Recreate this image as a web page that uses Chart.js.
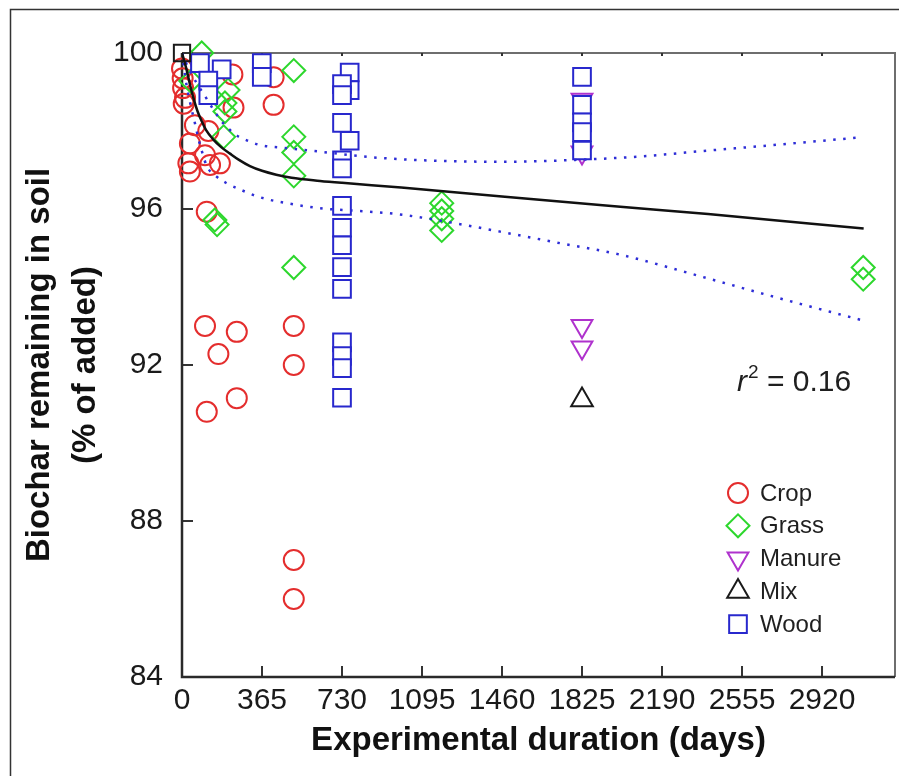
<!DOCTYPE html>
<html>
<head>
<meta charset="utf-8">
<script src="https://cdn.jsdelivr.net/npm/chart.js@4.4.1/dist/chart.umd.min.js"></script>
<style>
html, body { margin: 0; padding: 0; background: #fff; }
canvas { display: block; }
</style>
</head>
<body>
<canvas id="c" width="899" height="776" style="width:899px;height:776px"></canvas>
<script>
// ---- data ----
const xTickValues = [0, 365, 730, 1095, 1460, 1825, 2190, 2555, 2920];
const yTickValues = [84, 88, 92, 96, 100];
const seriesNames = ['Crop', 'Grass', 'Manure', 'Mix', 'Wood'];

const cropDays   = [0, 3, 5, 14, 8, 230, 235, 418, 418, 59, 120, 36, 105, 29, 36, 128, 173, 113, 105, 250, 166, 250, 113, 510, 510, 510, 510];
const cropValues = [99.6, 99.35, 99.1, 98.85, 98.7, 99.45, 98.6, 99.38, 98.67, 98.15, 98.0, 97.68, 97.38, 97.17, 96.96, 97.13, 97.17, 95.93, 93.0, 92.85, 92.28, 91.15, 90.8, 93.0, 92.0, 87.0, 86.0];

const grassDays   = [90, 40, 210, 196, 196, 190, 150, 160, 510, 510, 510, 510, 510, 1185, 1185, 1185, 1185, 3108, 3108];
const grassValues = [100, 99.28, 99.05, 98.72, 98.5, 97.85, 95.72, 95.6, 99.55, 97.85, 97.45, 96.85, 94.5, 96.15, 95.95, 95.75, 95.45, 94.5, 94.2];

const manureDays   = [1825, 1825, 1825, 1825];
const manureValues = [93.0, 92.45, 98.8, 97.45];

const mixDays   = [1825];
const mixValues = [91.1];

const woodDays   = [82, 181, 120, 120, 364, 364, 765, 765, 730, 730, 730, 765, 730, 730, 730, 730, 730, 730, 730, 730, 730, 730, 730, 1825, 1825, 1825, 1825, 1825];
const woodValues = [99.74, 99.58, 99.29, 98.92, 99.74, 99.39, 99.5, 99.05, 99.2, 98.92, 98.21, 97.75, 97.25, 97.04, 96.08, 95.52, 95.07, 94.51, 93.95, 92.58, 92.23, 91.92, 91.16, 99.39, 98.67, 98.22, 97.97, 97.5];

// black square at the start of the fit
const startDays   = [0];
const startValues = [100];

const fitDays   = [0, 6, 14, 24, 36, 52, 70, 90, 110, 143, 180, 219, 260, 310, 365, 430, 500, 630, 730, 1000, 1460, 2000, 2400, 3110];
const fitValues = [100, 99.88, 99.72, 99.5, 99.2, 98.85, 98.52, 98.25, 98.02, 97.78, 97.58, 97.42, 97.26, 97.1, 96.98, 96.88, 96.8, 96.72, 96.67, 96.55, 96.32, 96.06, 95.87, 95.5];

const upperDays   = [0, 30, 70, 110, 143, 173, 205, 234, 260, 300, 356, 478, 630, 858, 1100, 1460, 1800, 2100, 2363, 2700, 3101];
const upperValues = [100, 99.6, 99.2, 98.85, 98.55, 98.3, 98.1, 97.95, 97.85, 97.75, 97.64, 97.56, 97.47, 97.33, 97.25, 97.21, 97.26, 97.35, 97.48, 97.64, 97.84];

const lowerDays   = [0, 20, 40, 59, 75, 95, 113, 158, 204, 257, 356, 508, 630, 858, 995, 1200, 1451, 1700, 1998, 2400, 2700, 3101];
const lowerValues = [100, 99.2, 98.65, 98.2, 97.8, 97.4, 97.1, 96.83, 96.66, 96.52, 96.3, 96.12, 96.02, 95.93, 95.86, 95.68, 95.42, 95.15, 94.83, 94.22, 93.75, 93.15];

const rSquaredText = '0.16';

// ---- chart ----
const toXY = (xs, ys) => xs.map((x, i) => ({ x: x, y: ys[i] }));
Chart.defaults.font.family = "'Liberation Sans', Arial, Helvetica, sans-serif";

function markerSet(label, xs, ys, style, color, radius, rotation, order, fillColor) {
  return {
    type: 'scatter', label: label, data: toXY(xs, ys),
    pointStyle: style, pointRadius: radius, pointHoverRadius: radius, pointRotation: rotation,
    pointBorderWidth: 2, pointBorderColor: color, pointBackgroundColor: fillColor || 'rgba(0,0,0,0)',
    borderColor: color, backgroundColor: 'rgba(0,0,0,0)',
    showLine: false, clip: false, order: order
  };
}
function lineSet(label, xs, ys, color, width, dash) {
  return {
    type: 'line', label: label, data: toXY(xs, ys),
    borderColor: color, borderWidth: width, borderDash: dash,
    pointRadius: 0, fill: false, cubicInterpolationMode: 'monotone', order: 0
  };
}

const datasets = [
  lineSet('fit', fitDays, fitValues, '#111111', 2.5, []),
  lineSet('upper', upperDays, upperValues, 'rgb(45,45,215)', 2.5, [2.5, 7.5]),
  lineSet('lower', lowerDays, lowerValues, 'rgb(45,45,215)', 2.5, [2.5, 7.5]),
  markerSet('start', startDays, startValues, 'rect', '#1a1a1a', 11.5, 0, 0.5),
  markerSet('Mix', mixDays, mixValues, 'triangle', '#1a1a1a', 12.5, 0, 1),
  markerSet('Wood', woodDays, woodValues, 'rect', 'rgb(40,40,205)', 12.5, 0, 2, '#ffffff'),
  markerSet('Manure', manureDays, manureValues, 'triangle', 'rgb(175,50,205)', 12, 180, 3),
  markerSet('Grass', grassDays, grassValues, 'rectRot', 'rgb(45,215,45)', 11.5, 0, 4),
  markerSet('Crop', cropDays, cropValues, 'circle', 'rgb(228,45,45)', 10, 0, 5)
];

const framePlugin = {
  id: 'framePlugin',
  beforeDraw(chart) {
    const ctx = chart.ctx;
    ctx.save();
    ctx.fillStyle = '#ffffff';
    ctx.fillRect(0, 0, chart.width, chart.height);
    ctx.strokeStyle = '#333333';
    ctx.lineWidth = 1.5;
    ctx.beginPath();
    ctx.moveTo(10.5, chart.height);
    ctx.lineTo(10.5, 9.5);
    ctx.lineTo(chart.width, 9.5);
    ctx.stroke();
    ctx.restore();
  }
};

const axisPlugin = {
  id: 'axisPlugin',
  beforeDatasetsDraw(chart) {
    const ctx = chart.ctx, a = chart.chartArea, xs = chart.scales.x, ys = chart.scales.y;
    ctx.save();
    ctx.strokeStyle = '#6e6e6e';
    ctx.lineWidth = 2;
    ctx.beginPath();
    ctx.moveTo(a.left, a.top); ctx.lineTo(a.right, a.top); ctx.lineTo(a.right, a.bottom);
    ctx.stroke();
    ctx.strokeStyle = '#333333';
    ctx.lineWidth = 2;
    ctx.beginPath();
    xs.ticks.forEach(t => {
      const px = xs.getPixelForValue(t.value);
      ctx.moveTo(px, a.bottom); ctx.lineTo(px, a.bottom - 11);
      ctx.moveTo(px, a.top); ctx.lineTo(px, a.top + 3);
    });
    ys.ticks.forEach(t => {
      const py = ys.getPixelForValue(t.value);
      ctx.moveTo(a.left, py); ctx.lineTo(a.left + 11, py);
    });
    ctx.stroke();
    ctx.strokeStyle = '#2a2a2a';
    ctx.lineWidth = 2.5;
    ctx.beginPath();
    ctx.moveTo(a.left, a.top); ctx.lineTo(a.left, a.bottom); ctx.lineTo(a.right, a.bottom);
    ctx.stroke();
    ctx.restore();
  }
};

function drawMarker(ctx, ds, x, y) {
  const opts = { pointStyle: ds.pointStyle, rotation: ds.pointRotation, radius: ds.pointRadius, borderWidth: ds.pointBorderWidth };
  ctx.save();
  ctx.fillStyle = 'rgba(0,0,0,0)';
  ctx.strokeStyle = ds.pointBorderColor;
  ctx.lineWidth = ds.pointBorderWidth;
  if (Chart.helpers && Chart.helpers.drawPoint) {
    Chart.helpers.drawPoint(ctx, opts, x, y);
  }
  ctx.restore();
}

const legendPlugin = {
  id: 'ownLegend',
  afterDraw(chart) {
    const ctx = chart.ctx;
    const a = chart.chartArea;
    const markerX = a.left + 556, textX = a.left + 578;
    const top = 493, step = 32.8;
    ctx.save();
    ctx.font = "24px 'Liberation Sans', Arial, sans-serif";
    ctx.fillStyle = '#1f1f1f';
    ctx.textBaseline = 'middle';
    ctx.textAlign = 'left';
    seriesNames.forEach((name, i) => {
      const ds = chart.data.datasets.find(d => d.label === name);
      const y = top + i * step;
      drawMarker(ctx, ds, markerX, y);
      ctx.fillText(name, textX, y + 1);
    });
    // r^2 annotation
    const rx = 737, ry = 391;
    ctx.textBaseline = 'alphabetic';
    ctx.font = "italic 30px 'Liberation Sans', Arial, sans-serif";
    ctx.fillText('r', rx, ry);
    let w = ctx.measureText('r').width;
    ctx.font = "19px 'Liberation Sans', Arial, sans-serif";
    ctx.fillText('2', rx + w + 1, ry - 13);
    w += ctx.measureText('2').width + 1;
    ctx.font = "30px 'Liberation Sans', Arial, sans-serif";
    ctx.fillText(' = ' + rSquaredText, rx + w, ry);
    ctx.restore();
  }
};

new Chart(document.getElementById('c'), {
  type: 'scatter',
  data: { datasets: datasets },
  options: {
    responsive: false,
    animation: false,
    events: [],
    layout: { autoPadding: false, padding: { top: 53, right: 4, left: 0, bottom: 0 } },
    plugins: { legend: { display: false }, tooltip: { enabled: false } },
    scales: {
      x: {
        type: 'linear', position: 'bottom', min: 0, max: 3253,
        afterBuildTicks: s => { s.ticks = xTickValues.map(v => ({ value: v })); },
        afterFit: s => { s.height = 99; s.paddingLeft = 0; s.paddingRight = 0; },
        grid: { display: false, drawTicks: false },
        border: { display: false },
        ticks: { font: { size: 30 }, color: '#1a1a1a', padding: 6, maxRotation: 0, autoSkip: false, callback: v => String(v) },
        title: { display: true, text: 'Experimental duration (days)', font: { size: 33, weight: 'bold' }, color: '#111111', padding: { top: 0, bottom: 15 } }
      },
      y: {
        type: 'linear', position: 'left', min: 84, max: 100,
        afterBuildTicks: s => { s.ticks = yTickValues.map(v => ({ value: v })); },
        afterFit: s => { s.width = 182; s.paddingTop = 0; s.paddingBottom = 0; },
        grid: { display: false, drawTicks: false },
        border: { display: false },
        ticks: { font: { size: 30 }, color: '#1a1a1a', padding: 19, callback: v => String(v) },
        title: { display: true, text: ['Biochar remaining in soil', '(% of added)'], font: { size: 33, weight: 'bold', lineHeight: 1.4 }, color: '#111111', padding: { top: 17, bottom: 0 } }
      }
    }
  },
  plugins: [framePlugin, axisPlugin, legendPlugin]
});
</script>
</body>
</html>
